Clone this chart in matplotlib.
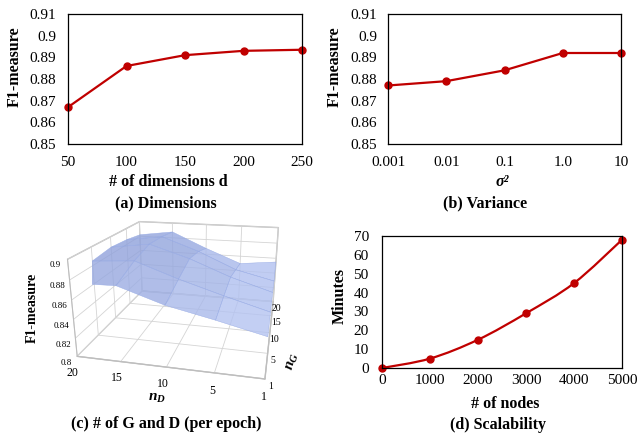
import numpy as np
import matplotlib
matplotlib.use("Agg")
import matplotlib.pyplot as plt
from matplotlib.path import Path
from matplotlib.patches import PathPatch
from matplotlib.colors import LinearSegmentedColormap, Normalize

plt.rcParams['font.family'] = ['Liberation Serif', 'DejaVu Serif']
plt.rcParams['mathtext.fontset'] = 'custom'
plt.rcParams['mathtext.rm'] = 'Liberation Serif'
plt.rcParams['mathtext.it'] = 'Liberation Serif:italic'
plt.rcParams['mathtext.bf'] = 'Liberation Serif:bold'
plt.rcParams['mathtext.bfit'] = 'Liberation Serif:italic:bold'

# (a) dimensions
dims = [50, 100, 150, 200, 250]
f1_dims = [0.867, 0.886, 0.891, 0.893, 0.8935]

# (b) variance
sigma_labels = ['0.001', '0.01', '0.1', '1.0', '10']
f1_sigma = [0.877, 0.879, 0.884, 0.892, 0.892]

# (c) number of G and D steps per epoch (rows: n_D, cols: n_G)
n_d_labels = ['20', '15', '10', '5', '1']
n_g_labels = ['1', '5', '10', '15', '20']
f1_gd = [
    [0.877, 0.885, 0.888, 0.886, 0.882],
    [0.878, 0.888, 0.894, 0.892, 0.888],
    [0.863, 0.872, 0.880, 0.876, 0.868],
    [0.853, 0.858, 0.862, 0.856, 0.850],
    [0.842, 0.845, 0.848, 0.845, 0.855],
]

# (d) scalability
nodes = [0, 1000, 2000, 3000, 4000, 5000]
minutes = [0, 5, 15, 29, 45, 68]

W, H = 637, 436
RED = '#c00000'
TICK_FS = 11
LAB_FS = 11.5

fig = plt.figure(figsize=(W / 100, H / 100), dpi=100)


def px_rect(x0, y0, x1, y1):
    return [x0 / W, 1 - y1 / H, (x1 - x0) / W, (y1 - y0) / H]


def ftext(x, y, s, size=LAB_FS, **kw):
    fig.text(x / W, 1 - y / H, s, ha='center', va='center', fontsize=size,
             fontweight='bold', **kw)


def style_2d(ax, xpad, ypad):
    ax.tick_params(length=0, labelsize=TICK_FS)
    ax.tick_params(axis='x', pad=xpad)
    ax.tick_params(axis='y', pad=ypad)
    for sp in ax.spines.values():
        sp.set_linewidth(0.9)


def smooth_path(xs, ys):
    # excel style smoothed line as cubic bezier segments
    pts = np.column_stack([xs, ys]).astype(float)
    n = len(pts)
    verts = [pts[0]]
    codes = [Path.MOVETO]
    for i in range(n - 1):
        p0 = pts[i - 1] if i > 0 else pts[i]
        p1, p2 = pts[i], pts[i + 1]
        p3 = pts[i + 2] if i + 2 < n else pts[i + 1]
        verts += [p1 + (p2 - p0) / 6, p2 - (p3 - p1) / 6, p2]
        codes += [Path.CURVE4] * 3
    return Path(verts, codes)


def f1_fmt(v, p):
    return f'{v:.2f}'.rstrip('0')


# ---- (a)
ax_a = fig.add_axes(px_rect(68, 14, 302, 144))
ax_a.plot(dims, f1_dims, color=RED, lw=1.6, marker='o', ms=5, clip_on=False)
ax_a.set_xlim(50, 250)
ax_a.set_ylim(0.85, 0.91)
ax_a.set_xticks(dims)
ax_a.set_yticks(np.arange(0.85, 0.9101, 0.01))
ax_a.yaxis.set_major_formatter(f1_fmt)
style_2d(ax_a, 8.5, 8.5)
ftext(15, 67, 'F1-measure', rotation=90)
ftext(168, 182, '# of dimensions d')
ftext(166, 203, '(a) Dimensions')

# ---- (b)
ax_b = fig.add_axes(px_rect(388, 14, 621, 144))
xb = np.arange(len(sigma_labels))
ax_b.plot(xb, f1_sigma, color=RED, lw=1.6, marker='o', ms=5, clip_on=False)
ax_b.set_xlim(0, len(sigma_labels) - 1)
ax_b.set_ylim(0.85, 0.91)
ax_b.set_xticks(xb)
ax_b.set_xticklabels(sigma_labels)
ax_b.set_yticks(np.arange(0.85, 0.9101, 0.01))
ax_b.yaxis.set_major_formatter(f1_fmt)
style_2d(ax_b, 9, 8)
ftext(335, 67, 'F1-measure', rotation=90)
ftext(502, 182, 'σ²', fontstyle='italic')
ftext(485, 203, '(b) Variance')

# ---- (c)
ax_c = fig.add_axes(px_rect(22, 192, 352, 382), projection='3d')
gx, gy = np.meshgrid(np.arange(len(n_d_labels)), np.arange(len(n_g_labels)),
                     indexing='ij')
gz = np.array(f1_gd)
# higher parts of the surface drawn a bit darker, like the excel shading
surf_cmap = LinearSegmentedColormap.from_list('surf', ['#bccbf6', '#8b9dd8'])
zc = (gz[:-1, :-1] + gz[1:, 1:] + gz[1:, :-1] + gz[:-1, 1:]) / 4
face = surf_cmap(Normalize(0.84, 0.895)(zc))
face[..., 3] = 0.8
ax_c.plot_surface(gx, gy, gz, facecolors=face, shade=False,
                  edgecolor='#95a9e4', linewidth=0.3)
ax_c.set_xticks(range(len(n_d_labels)))
ax_c.set_xticklabels(n_d_labels)
ax_c.set_yticks(range(len(n_g_labels)))
ax_c.set_yticklabels(n_g_labels)
ax_c.set_xlim(0, 4)
ax_c.set_ylim(0, 4)
ax_c.set_zlim(0.8, 0.9)
ax_c.set_zticks(np.arange(0.8, 0.9001, 0.02))
ax_c.zaxis.set_major_formatter(f1_fmt)
ax_c.set_proj_type('persp', focal_length=0.4)
ax_c.view_init(elev=19, azim=-77)
ax_c.set_box_aspect((1.64, 1.74, 0.89), zoom=1.3)
ax_c.zaxis._axinfo['juggled'] = (1, 2, 0)
for axis in (ax_c.xaxis, ax_c.yaxis, ax_c.zaxis):
    axis.set_pane_color((1, 1, 1, 1))
    axis.pane.set_edgecolor('#bdbdbd')
    axis.line.set_color('#bdbdbd')
    axis._axinfo['grid'].update(color='#d4d4d4', linewidth=0.6)
    axis._axinfo['tick'].update(inward_factor=0, outward_factor=0)
ax_c.tick_params(axis='x', labelsize=8.5, pad=-4)
ax_c.tick_params(axis='y', labelsize=7, pad=-6)
ax_c.tick_params(axis='z', labelsize=6.5, pad=-5)
ftext(32, 308, 'F1-measure', size=10, rotation=90)
ftext(157, 398, '$\\mathbfit{n}_{\\mathbfit{D}}$', size=11)
ftext(293, 362, '$\\mathbfit{n}_{\\mathbfit{G}}$', size=11, rotation=75)
ftext(166, 424, '(c) # of G and D (per epoch)')

# ---- (d)
ax_d = fig.add_axes(px_rect(382, 236, 622, 368))
ax_d.add_patch(PathPatch(smooth_path(nodes, minutes), facecolor='none',
                         edgecolor=RED, lw=1.6, clip_on=False))
ax_d.plot(nodes, minutes, ls='none', color=RED, marker='o', ms=5, clip_on=False)
ax_d.set_xlim(0, 5000)
ax_d.set_ylim(0, 70)
ax_d.set_xticks(nodes)
ax_d.set_yticks(range(0, 71, 10))
style_2d(ax_d, 4, 9.5)
ftext(340, 296, 'Minutes', rotation=90)
ftext(505, 404, '# of nodes')
ftext(498, 425, '(d) Scalability')

fig.savefig('out.png', dpi=100)
